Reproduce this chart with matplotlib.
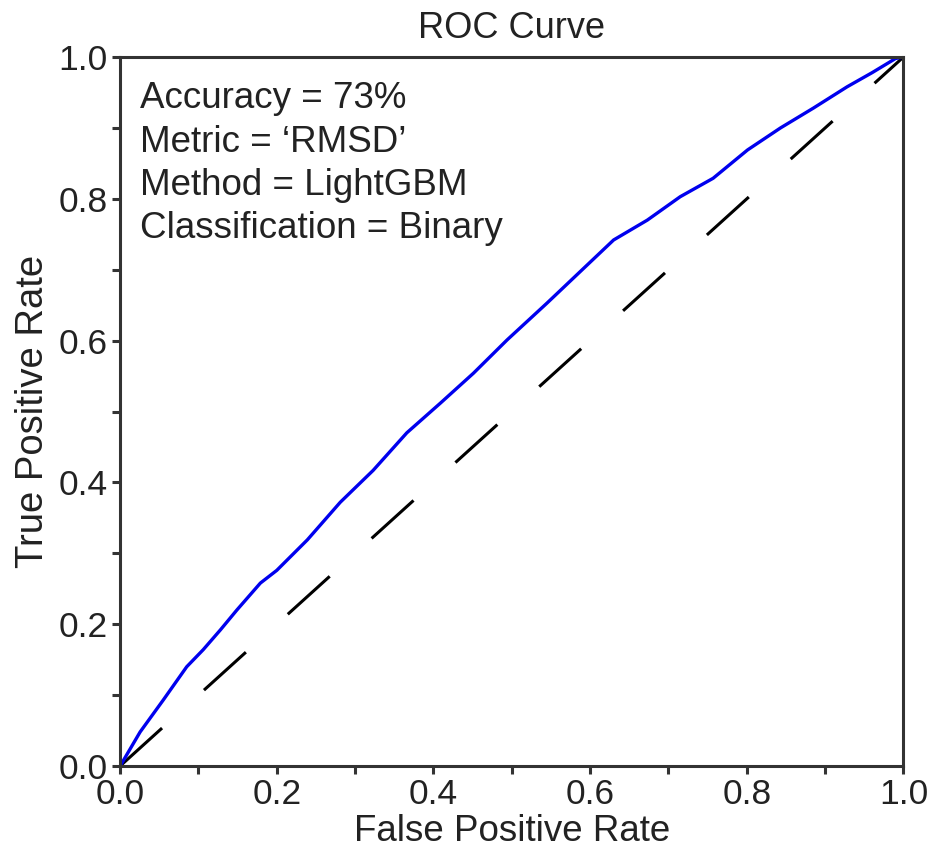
import matplotlib.pyplot as plt

plt.rcParams['font.family'] = ['Liberation Sans', 'DejaVu Sans']

# ROC curve points
fpr = [0.0, 0.0255, 0.055, 0.085, 0.106, 0.128, 0.149, 0.179, 0.20, 0.239,
       0.281, 0.323, 0.366, 0.409, 0.451, 0.494, 0.545, 0.587, 0.630, 0.673,
       0.715, 0.757, 0.801, 0.843, 0.885, 0.928, 0.96, 0.99, 1.0]
tpr = [0.0, 0.048, 0.093, 0.140, 0.164, 0.192, 0.220, 0.258, 0.276, 0.319,
       0.372, 0.417, 0.470, 0.512, 0.554, 0.601, 0.653, 0.697, 0.742, 0.770,
       0.803, 0.829, 0.869, 0.900, 0.928, 0.958, 0.978, 0.998, 1.0]

info = ["Accuracy = 73%", "Metric = \u2018RMSD\u2019", "Method = LightGBM",
        "Classification = Binary"]
ticks = [0.0, 0.2, 0.4, 0.6, 0.8, 1.0]
minor = [0.1, 0.3, 0.5, 0.7, 0.9]

spine_col = '#333333'
txt_col = '#222222'

fig = plt.figure(figsize=(9.46, 8.48), dpi=100)
ax = fig.add_axes([0.127, 0.0967, 0.828, 0.836])

ax.plot([0, 1], [0, 1], color='black', lw=2.2, linestyle=(0, (18.5, 18.5)))
ax.plot(fpr, tpr, color='#0000ee', lw=2.4)

ax.set_xlim(0, 1)
ax.set_ylim(0, 1)
ax.set_xticks(ticks)
ax.set_yticks(ticks)
ax.set_xticks(minor, minor=True)
ax.set_yticks(minor, minor=True)
ax.set_xticklabels([f"{t:.1f}" for t in ticks])
ax.set_yticklabels([f"{t:.1f}" for t in ticks])

for s in ax.spines.values():
    s.set_color(spine_col)
    s.set_linewidth(2.2)
ax.tick_params(which='both', direction='out', length=6, width=2.2,
               color=spine_col, labelsize=25.5, labelcolor=txt_col, pad=3)

ax.set_xlabel('False Positive Rate', fontsize=26.5, color=txt_col, labelpad=2)
ax.set_ylabel('True Positive Rate', fontsize=27.5, color=txt_col, labelpad=5)
ax.set_title('ROC Curve', fontsize=26, color=txt_col, pad=14)

ax.text(0.0255, 0.966, "\n".join(info), transform=ax.transAxes, fontsize=26.5,
        va='top', ha='left', linespacing=1.31, color=txt_col)

fig.savefig('out.png', dpi=100)
